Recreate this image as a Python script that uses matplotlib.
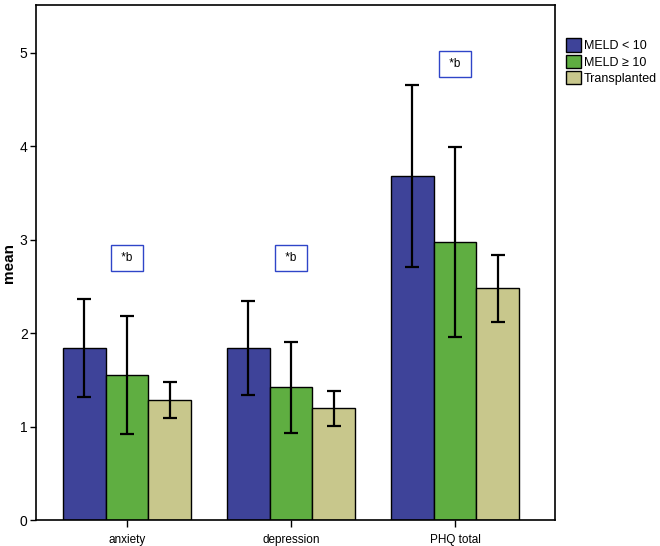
import numpy as np
import matplotlib.pyplot as plt

categories = ['anxiety', 'depression', 'PHQ total']
groups = ['MELD < 10', 'MELD \u2265 10', 'Transplanted']
means = {
    'MELD < 10': [1.84, 1.84, 3.68],
    'MELD \u2265 10': [1.55, 1.42, 2.97],
    'Transplanted': [1.28, 1.20, 2.48],
}
lower = {
    'MELD < 10': [1.32, 1.34, 2.71],
    'MELD \u2265 10': [0.92, 0.93, 1.96],
    'Transplanted': [1.09, 1.01, 2.12],
}
upper = {
    'MELD < 10': [2.37, 2.34, 4.65],
    'MELD \u2265 10': [2.18, 1.91, 3.99],
    'Transplanted': [1.48, 1.38, 2.84],
}
annot_text = ['*b', '*b', '*b']
annot_y = [2.8, 2.8, 4.88]

colors = ['#3E4399', '#5FAE41', '#C8C78C']

plt.rcParams['font.family'] = ['Liberation Sans', 'DejaVu Sans']

fig = plt.figure(figsize=(6.6, 5.46), dpi=100)
ax = fig.add_axes([0.0545, 0.0476, 0.7865, 0.943])

x = np.arange(len(categories))
w = 0.262
for i, g in enumerate(groups):
    m = np.array(means[g])
    lo = m - np.array(lower[g])
    hi = np.array(upper[g]) - m
    ax.bar(x + (i - 1) * w, m, width=w, color=colors[i], edgecolor='black',
           linewidth=1.0, label=g, zorder=2)
    ax.errorbar(x + (i - 1) * w, m, yerr=[lo, hi], fmt='none', ecolor='black',
                elinewidth=1.6, capsize=5, capthick=1.6, zorder=3)

# boxed significance markers
for xi, t, yv in zip(x, annot_text, annot_y):
    ax.text(xi, yv, ' ' + t + ' ', ha='center', va='center', fontsize=8.5,
            bbox=dict(boxstyle='square,pad=0.6', facecolor='white',
                      edgecolor='#2F45C8', linewidth=1.0))

ax.set_xlim(-0.555, 2.61)
ax.set_ylim(0, 5.51)
ax.set_xticks(x)
ax.set_xticklabels(categories, fontsize=8.5)
ax.set_yticks([0, 1, 2, 3, 4, 5])
ax.tick_params(axis='y', labelsize=10, length=4, width=1, pad=2)
ax.tick_params(axis='x', length=5, width=1, pad=5)
ax.set_ylabel('mean', fontsize=11, fontweight='bold', labelpad=3)
for s in ax.spines.values():
    s.set_linewidth(1.2)

ax.legend(loc='upper left', bbox_to_anchor=(1.012, 0.945), frameon=False,
          fontsize=9, handlelength=1.2, handleheight=1.25, handletextpad=0.2,
          labelspacing=0.2, borderaxespad=0)

fig.savefig('out.png', dpi=100)
